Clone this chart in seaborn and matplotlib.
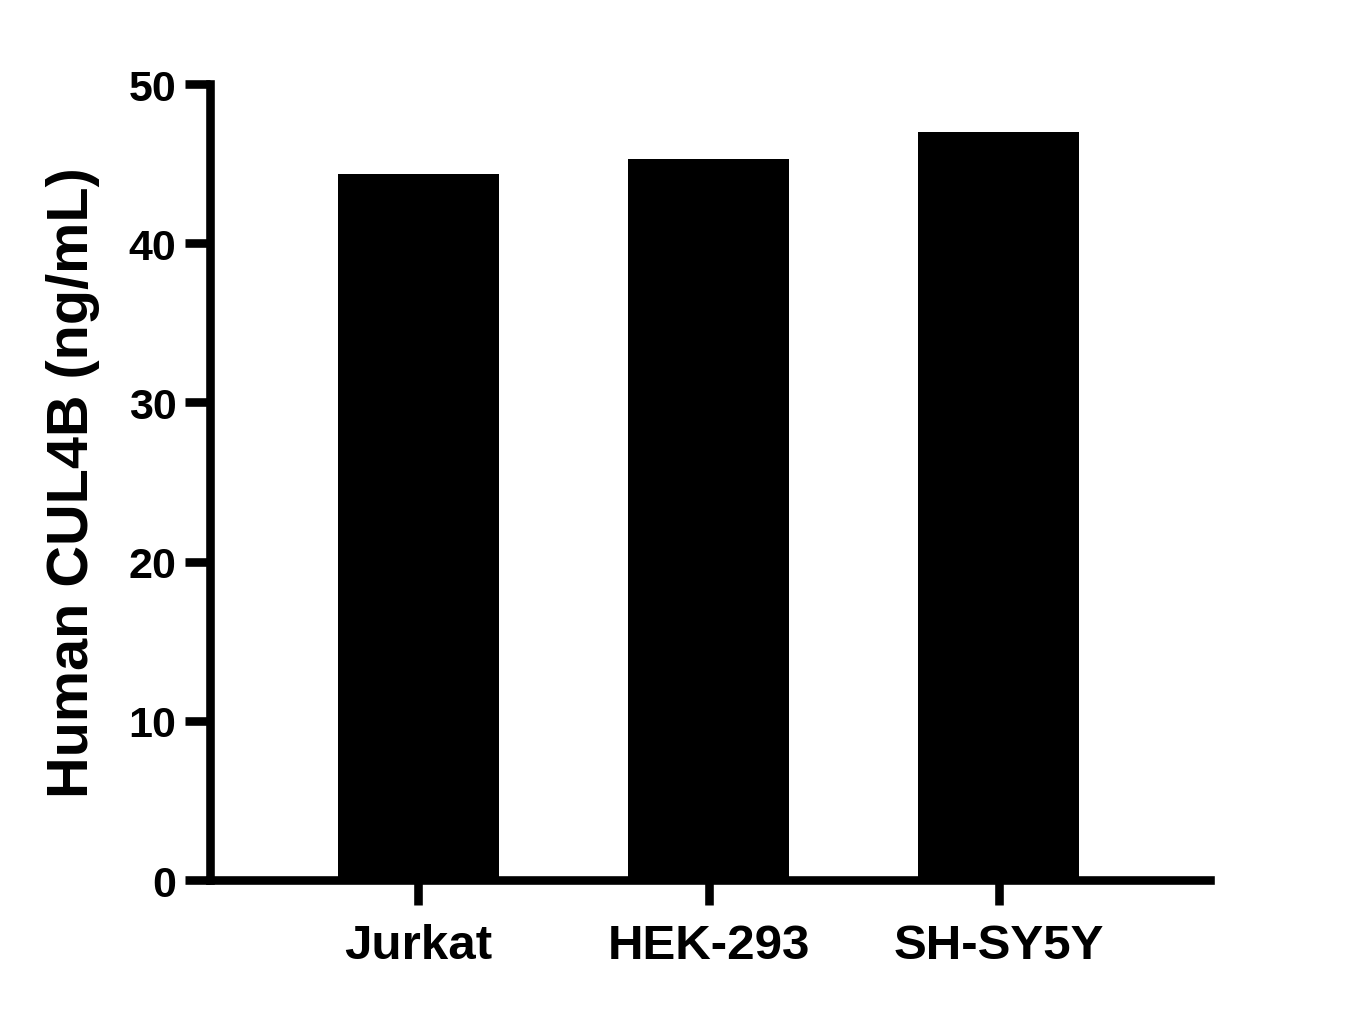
import matplotlib
matplotlib.use("Agg")
import matplotlib.pyplot as plt
import seaborn as sns
import pandas as pd

# values
cell_lines = ["Jurkat", "HEK-293", "SH-SY5Y"]
cul4b_ng_ml = [44.35, 45.3, 46.98]
y_ticks = [0, 10, 20, 30, 40, 50]

df = pd.DataFrame({"cell_line": cell_lines, "conc": cul4b_ng_ml})

sns.set_style("ticks")
plt.rcParams["font.family"] = ["Liberation Sans", "DejaVu Sans"]
plt.rcParams["font.weight"] = "bold"

fig = plt.figure(figsize=(13.58, 10.12), dpi=100)
ax = fig.add_axes([0.1546, 0.1294, 0.891 - 0.1546, 0.916 - 0.1294])

sns.barplot(data=df, x="cell_line", y="conc", color="black", saturation=1,
            width=0.555, ax=ax, edgecolor="none")

ax.set_xlim(-0.719, 2.729)
ax.set_ylim(0, 50)
ax.set_yticks(y_ticks)
ax.set_xlabel("")
ax.set_ylabel("Human CUL4B (ng/mL)", fontsize=41.5, fontweight="bold",
              labelpad=21, color="black")

for side in ["top", "right"]:
    ax.spines[side].set_visible(False)
for side in ["left", "bottom"]:
    ax.spines[side].set_linewidth(6.2)
    ax.spines[side].set_color("black")

ax.tick_params(axis="y", length=18, width=6.2, pad=6, labelsize=31, colors="black")
ax.tick_params(axis="x", length=18, width=6.2, pad=13, labelsize=35.5, colors="black")
for lab in ax.get_xticklabels() + ax.get_yticklabels():
    lab.set_fontweight("bold")

fig.savefig("out.png", dpi=100, facecolor="white")
